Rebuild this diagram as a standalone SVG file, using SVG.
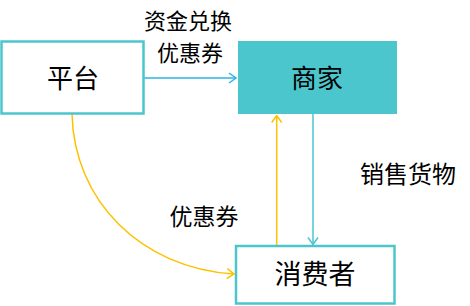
<svg xmlns="http://www.w3.org/2000/svg" width="470" height="306" viewBox="0 0 470 306">
<defs>
<style>
text{font-family:"Noto Sans CJK SC","Liberation Sans",sans-serif;fill:#000;text-anchor:middle}
.box{fill:#fff;stroke:#4BC6CC;stroke-width:2.5}
.fill{fill:#4BC6CC;stroke:none}
.lbl{font-size:23px}
.node{font-size:26px}
.c{fill:none;stroke-width:1.5}
</style>
<marker id="ab" viewBox="0 0 10 12" refX="9" refY="6" markerWidth="10" markerHeight="12" markerUnits="userSpaceOnUse" orient="auto"><path d="M2,1 L9,6 L2,11" fill="none" stroke="#2DB3E6" stroke-width="1.5"/></marker>
<marker id="ay" viewBox="0 0 10 12" refX="9" refY="6" markerWidth="10" markerHeight="12" markerUnits="userSpaceOnUse" orient="auto"><path d="M2,1 L9,6 L2,11" fill="none" stroke="#FFC000" stroke-width="1.5"/></marker>
<marker id="at" viewBox="0 0 10 12" refX="9" refY="6" markerWidth="10" markerHeight="12" markerUnits="userSpaceOnUse" orient="auto"><path d="M2,1 L9,6 L2,11" fill="none" stroke="#4BC6CC" stroke-width="1.5"/></marker>
</defs>
<rect width="470" height="306" fill="#fff"/>
<g id="connectors">
<path class="c" d="M144,78 H236" stroke="#2DB3E6" marker-end="url(#ab)"/>
<path class="c" d="M72,114 C74,200 140,268 234,274" stroke="#FFC000" marker-end="url(#ay)"/>
<path class="c" d="M276.7,247 V115.5" stroke="#FFC000" marker-end="url(#ay)"/>
<path class="c" d="M313,114 V244.5" stroke="#4BC6CC" marker-end="url(#at)"/>
<text class="lbl" x="188" y="29" style="font-size:22px">资金兑换</text>
<text class="lbl" x="190" y="61" style="font-size:22px">优惠券</text>
<text class="lbl" x="204" y="225">优惠券</text>
<text class="lbl" x="408" y="183" style="font-size:24px">销售货物</text>
</g>
<g id="platform">
<rect class="box" x="1.5" y="41.5" width="142" height="72"/>
<text class="node" x="73" y="88">平台</text>
</g>
<g id="merchant">
<rect class="fill" x="238" y="41" width="159" height="73"/>
<text class="node" x="317" y="88">商家</text>
</g>
<g id="consumer">
<rect class="box" x="236" y="246" width="158.5" height="57.5"/>
<text class="node" x="315" y="284" style="font-size:27px">消费者</text>
</g>
</svg>
